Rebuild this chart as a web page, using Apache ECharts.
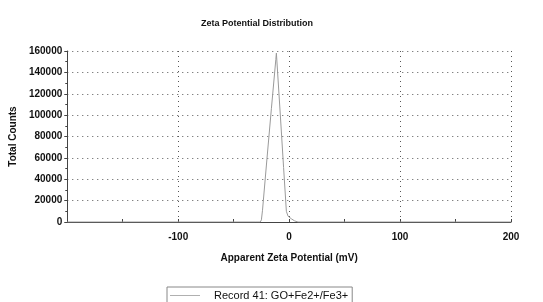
<!DOCTYPE html>
<html>
<head>
<meta charset="utf-8">
<script src="https://cdn.jsdelivr.net/npm/echarts@6/dist/echarts.min.js"></script>
<style>
  html, body { margin: 0; padding: 0; background: #fff; }
  #chart { width: 543px; height: 302px; }
</style>
</head>
<body>
<div id="chart"></div>
<script>
// zeta potential (mV) vs total counts
const zeta = [-200, -30, -26, -25, -24, -20, -16, -12, -11.5, -8, -5, -2.5, -1, 2, 5, 8, 200];
const counts = [0, 0, 0, 2000, 11000, 59000, 106000, 152000, 158000, 101000, 51000, 10000, 5500, 3000, 1000, 0, 0];
const seriesName = "Record 41: GO+Fe2+/Fe3+";

const font = "Arial, 'Liberation Sans', sans-serif";
const chart = echarts.init(document.getElementById("chart"));

chart.setOption({
  animation: false,
  title: {
    text: "Zeta Potential Distribution",
    left: 252,
    textAlign: "center",
    top: 14,
    textStyle: { fontFamily: font, fontSize: 9, fontWeight: "bold", color: "#111" }
  },
  legend: {
    left: 167,
    top: 287,
    padding: [3, 4, 8, 3],
    borderColor: "#888",
    borderWidth: 1,
    icon: "rect",
    itemWidth: 30,
    itemHeight: 1,
    itemStyle: { color: "#b0b0b0" },
    textStyle: { fontFamily: font, fontSize: 11, color: "#111", padding: [0, 0, 0, 9] },
    data: [seriesName]
  },
  grid: { left: 65, right: 32, top: 51, bottom: 80 },
  xAxis: {
    type: "value",
    min: -200,
    max: 200,
    interval: 100,
    name: "Apparent Zeta Potential (mV)",
    nameLocation: "middle",
    nameGap: 31,
    nameTextStyle: { fontFamily: font, fontSize: 10, fontWeight: "bold", color: "#111" },
    axisLine: { show: true, onZero: false, lineStyle: { color: "#444", width: 1 } },
    axisTick: { show: true, inside: true, length: 3, lineStyle: { color: "#444" } },
    minorTick: { show: true, splitNumber: 2, length: 3, lineStyle: { color: "#444" } },
    axisLabel: {
      fontFamily: font, fontSize: 10, fontWeight: "bold", color: "#111", margin: 10,
      formatter: v => (v === -200 ? "" : String(v))
    },
    splitLine: { show: true, lineStyle: { color: "#555", type: [1, 4], width: 1 } }
  },
  yAxis: {
    type: "value",
    min: 0,
    max: 160000,
    interval: 20000,
    name: "Total Counts",
    nameLocation: "middle",
    nameGap: 47,
    nameTextStyle: { fontFamily: font, fontSize: 10, fontWeight: "bold", color: "#111" },
    axisLine: { show: true, onZero: false, lineStyle: { color: "#444", width: 1 } },
    axisTick: { show: true, length: 3, lineStyle: { color: "#444" } },
    minorTick: { show: true, splitNumber: 2, length: 2, lineStyle: { color: "#444" } },
    axisLabel: {
      fontFamily: font, fontSize: 10, fontWeight: "bold", color: "#111", margin: 5,
      formatter: v => String(v)
    },
    splitLine: { show: true, lineStyle: { color: "#555", type: [1, 4], width: 1 } }
  },
  series: [{
    name: seriesName,
    type: "line",
    symbol: "none",
    data: zeta.map((z, i) => [z, counts[i]]),
    lineStyle: { color: "#9a9a9a", width: 1 },
    itemStyle: { color: "#9a9a9a" }
  }]
});
</script>
</body>
</html>
